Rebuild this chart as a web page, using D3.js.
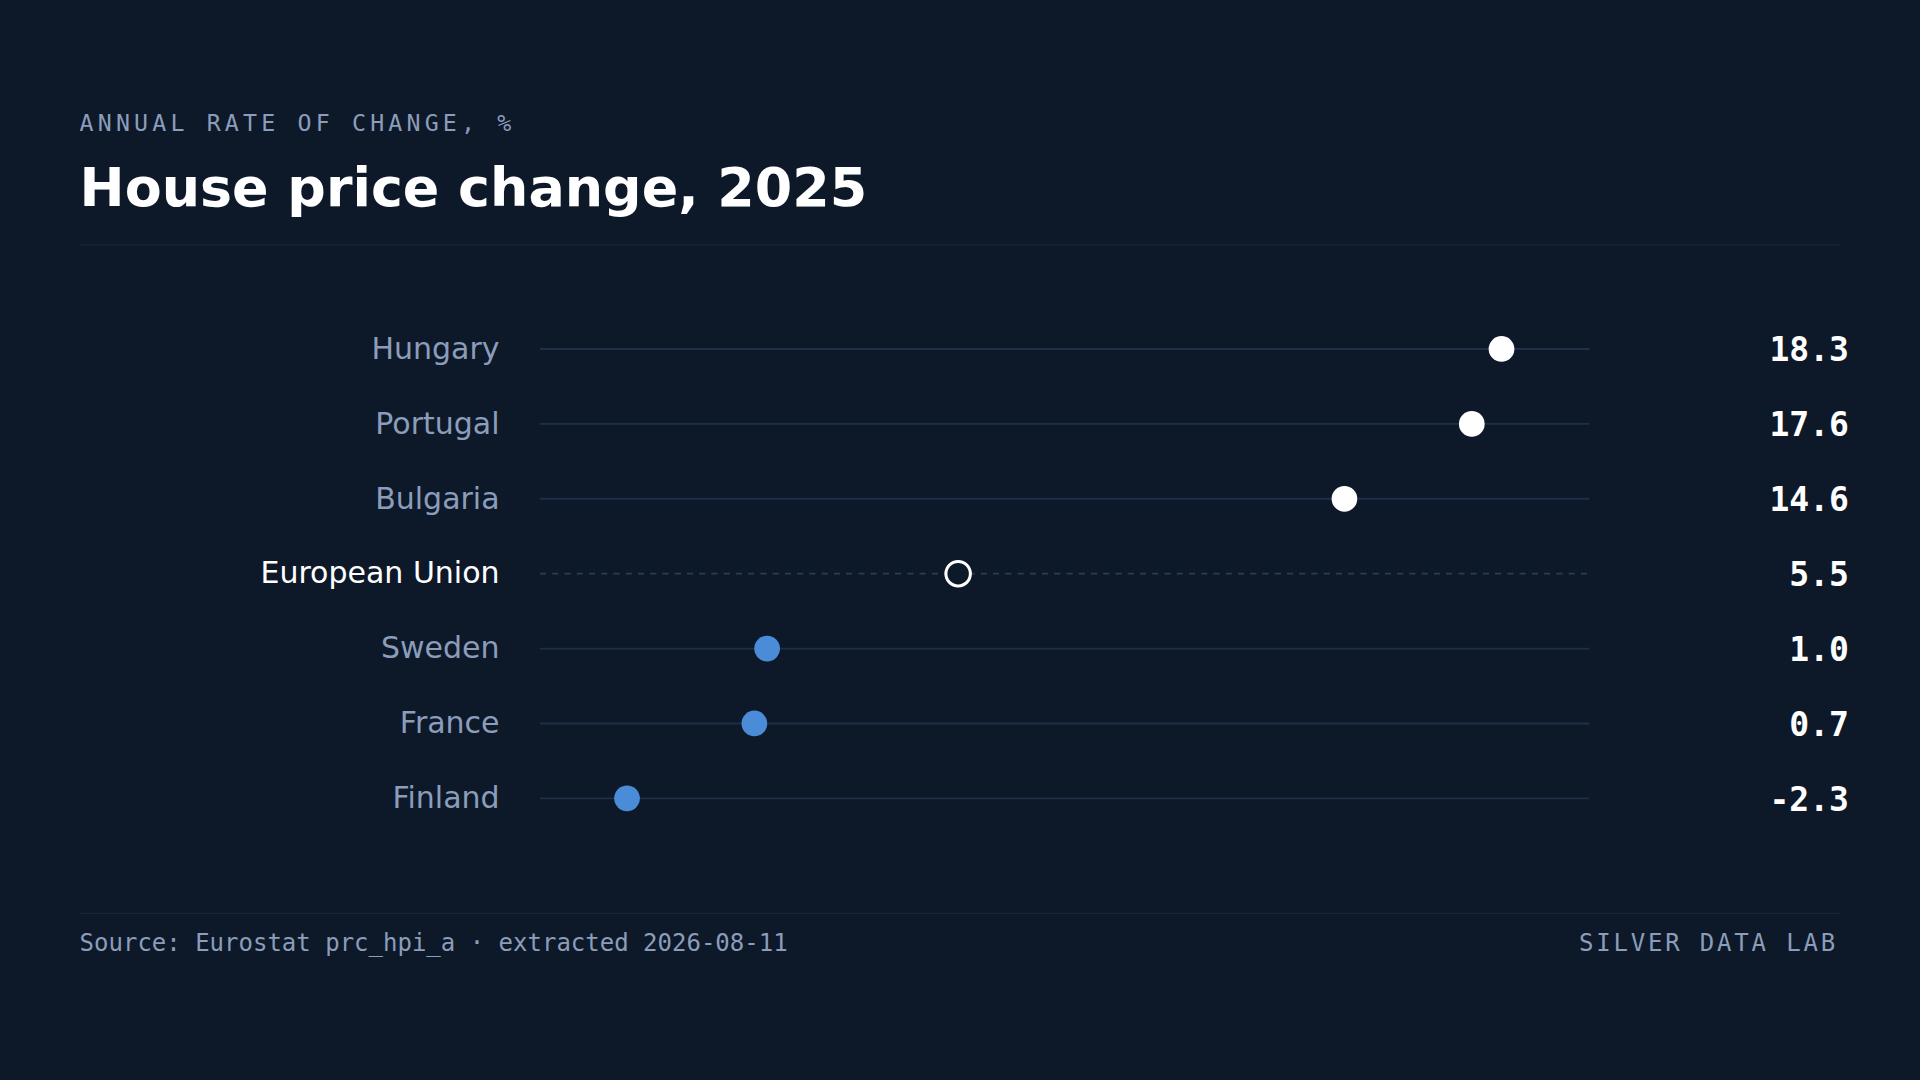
<!DOCTYPE html>
<html><head><meta charset="utf-8">
<script src="https://cdn.jsdelivr.net/npm/d3@7"></script>
<style>html,body{margin:0;padding:0;background:#0d1929;overflow:hidden}</style>
</head><body>
<svg id="c" width="1920" height="1080" viewBox="0 0 1568 882"></svg>
<script>
const countries = ["Hungary","Portugal","Bulgaria","European Union","Sweden","France","Finland"];
const values = [18.3,17.6,14.6,5.5,1.0,0.7,-2.3];
const valueLabels = ["18.3","17.6","14.6","5.5","1.0","0.7","-2.3"];
const highlight = "European Union";

const svg = d3.select("#c");
const bg="#0d1929", muted="#8b9dba", grid="#1e2f47";
svg.append("rect").attr("width",1568).attr("height",882).attr("fill",bg);

svg.append("text").attr("x",65).attr("y",107).text("ANNUAL RATE OF CHANGE, %")
  .attr("font-family","DejaVu Sans Mono").attr("font-size",19).attr("letter-spacing",3.4).attr("fill",muted);
svg.append("text").attr("x",65).attr("y",168).text("House price change, 2025")
  .attr("font-family","DejaVu Sans").attr("font-weight","bold").attr("font-size",44).attr("fill","#ffffff");
svg.append("line").attr("x1",65).attr("x2",1503).attr("y1",200).attr("y2",200).attr("stroke","#18263a");

const x = d3.scaleLinear().domain([-4.35,20.37]).range([441,1298]);
const y = d3.scalePoint().domain(countries).range([285,652]);

const rows = svg.selectAll("g.row").data(countries).join("g").attr("class","row");
rows.append("line").attr("x1",x.range()[0]).attr("x2",x.range()[1])
  .attr("y1",d=>y(d)).attr("y2",d=>y(d))
  .attr("stroke",d=>d===highlight?"#2a3d57":grid).attr("stroke-width",1.5)
  .attr("stroke-dasharray",d=>d===highlight?"5,5":null);
rows.append("text").attr("x",408).attr("y",d=>y(d)+8).attr("text-anchor","end")
  .attr("font-family","DejaVu Sans").attr("font-size",24.5)
  .attr("fill",d=>d===highlight?"#ffffff":muted).text(d=>d);
rows.append("circle").attr("cx",(d,i)=>x(values[i])).attr("cy",d=>y(d))
  .attr("r",(d)=>d===highlight?10:10.5)
  .attr("fill",(d,i)=>d===highlight?bg:(values[i]>5.5?"#ffffff":"#4a8cd8"))
  .attr("stroke",d=>d===highlight?"#ffffff":"none").attr("stroke-width",2.5);
rows.append("text").attr("x",1510).attr("y",d=>y(d)+10).attr("text-anchor","end")
  .attr("font-family","DejaVu Sans Mono").attr("font-weight","bold").attr("font-size",27)
  .attr("fill","#ffffff").text((d,i)=>valueLabels[i]);

svg.append("line").attr("x1",65).attr("x2",1503).attr("y1",746).attr("y2",746).attr("stroke","#18263a");
svg.append("text").attr("x",65).attr("y",777).text("Source: Eurostat prc_hpi_a · extracted 2026-08-11")
  .attr("font-family","DejaVu Sans Mono").attr("font-size",19.6).attr("fill",muted);
svg.append("text").attr("x",1501).attr("y",777).attr("text-anchor","end").text("SILVER DATA LAB")
  .attr("font-family","DejaVu Sans Mono").attr("font-size",19.6).attr("letter-spacing",2.3).attr("fill",muted);
</script>
</body></html>
